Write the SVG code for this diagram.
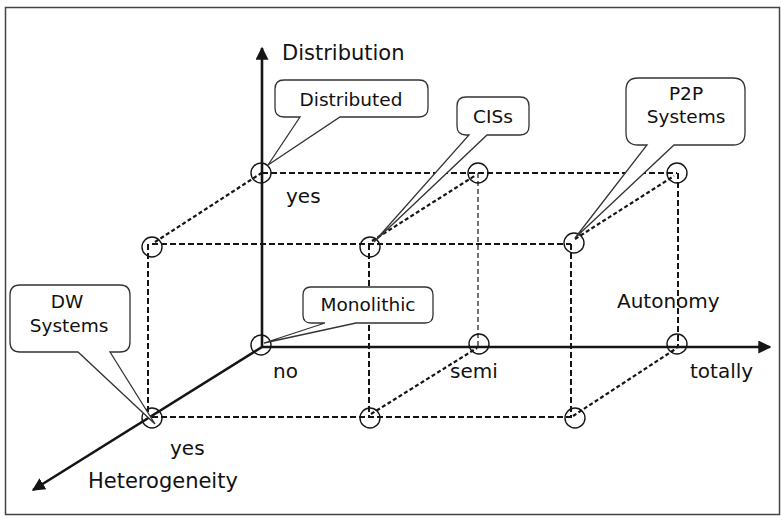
<svg xmlns="http://www.w3.org/2000/svg" width="783" height="521" viewBox="0 0 783 521">
<style>
text{font-family:"DejaVu Sans","Liberation Sans",sans-serif;fill:#111}
.ax{font-size:21px}
.lb{font-size:20px}
.co{font-size:18.5px;text-anchor:middle}
.axis{stroke:#151515;stroke-width:2.6;fill:none}
.dash{stroke:#151515;stroke-width:2;stroke-dasharray:6 3;fill:none}
.dot{stroke:#151515;stroke-width:2.2;stroke-dasharray:4 2.5;fill:none}
.thin{stroke:#151515;stroke-width:1.2;stroke-dasharray:5 3;fill:none}
.pt{stroke:#151515;stroke-width:1.4;fill:none}
.call{stroke:#333;stroke-width:1.3;fill:#fff}
</style>
<defs>
<marker id="ah" viewBox="0 0 10 10" refX="9" refY="5" markerWidth="5" markerHeight="5" orient="auto" markerUnits="strokeWidth">
<path d="M0,0 L10,5 L0,10 Z" fill="#151515"/>
</marker>
</defs>
<rect x="5.5" y="7.5" width="774" height="507" fill="#fff" stroke="#444" stroke-width="1.5"/>

<g id="axis-labels">
<text class="ax" x="282" y="60">Distribution</text>
<text class="ax" x="88" y="488">Heterogeneity</text>
<text class="lb" x="617" y="308">Autonomy</text>
<text class="lb" x="286" y="203">yes</text>
<text class="lb" x="273" y="378">no</text>
<text class="lb" x="450" y="378">semi</text>
<text class="lb" x="690" y="378">totally</text>
<text class="lb" x="170" y="455">yes</text>
</g>

<g id="connectors">
<line class="dash" x1="262" y1="173" x2="677" y2="173"/>
<line class="dash" x1="152" y1="244" x2="571" y2="244"/>
<line class="dash" x1="152" y1="417" x2="575" y2="417"/>
<line class="dash" x1="148" y1="244" x2="148" y2="417"/>
<line class="dash" x1="369" y1="244" x2="369" y2="417"/>
<line class="dash" x1="571" y1="244" x2="571" y2="417"/>
<line class="thin" x1="478" y1="173" x2="478" y2="346"/>
<line class="dash" x1="678" y1="173" x2="678" y2="346"/>
<line class="dot" x1="155" y1="242" x2="263" y2="172"/>
<line class="dot" x1="372" y1="241" x2="476" y2="175"/>
<line class="dot" x1="575" y1="239" x2="674" y2="176"/>
<line class="dot" x1="371" y1="414" x2="477" y2="348"/>
<line class="dot" x1="573" y1="416" x2="677" y2="348"/>
<line class="axis" x1="262" y1="347" x2="262" y2="48" marker-end="url(#ah)"/>
<line class="axis" x1="262" y1="347" x2="770" y2="347" marker-end="url(#ah)"/>
<line class="axis" x1="262" y1="347" x2="33" y2="490" marker-end="url(#ah)"/>
</g>

<g id="points">
<circle class="pt" cx="261" cy="345" r="10"/>
<circle class="pt" cx="479" cy="344" r="10"/>
<circle class="pt" cx="677" cy="344" r="10"/>
<circle class="pt" cx="261" cy="173" r="10"/>
<circle class="pt" cx="478" cy="173" r="10"/>
<circle class="pt" cx="677" cy="173" r="10"/>
<circle class="pt" cx="152" cy="247" r="10"/>
<circle class="pt" cx="370" cy="247" r="10"/>
<circle class="pt" cx="574" cy="243" r="10"/>
<circle class="pt" cx="152" cy="418" r="10"/>
<circle class="pt" cx="370" cy="418" r="10"/>
<circle class="pt" cx="575" cy="418" r="10"/>
</g>

<g id="callout-distributed">
<path class="call" d="M284,80 H419 Q428,80 428,89 V108 Q428,117 419,117 H340 L268,165 L300,117 H284 Q275,117 275,108 V89 Q275,80 284,80 Z"/>
<text class="co" x="351" y="106">Distributed</text>
</g>
<g id="callout-ciss">
<path class="call" d="M466,97 H520 Q529,97 529,106 V126 Q529,135 520,135 H487 L374,242 L469,135 H466 Q457,135 457,126 V106 Q457,97 466,97 Z"/>
<text class="co" x="493" y="123">CISs</text>
</g>
<g id="callout-p2p">
<path class="call" d="M638,78 H733 Q745,78 745,90 V133 Q745,145 733,145 H674 L575,238 L647,145 H638 Q626,145 626,133 V90 Q626,78 638,78 Z"/>
<text class="co" x="686" y="100">P2P</text>
<text class="co" x="686" y="123">Systems</text>
</g>
<g id="callout-dw">
<path class="call" d="M20,285 H120 Q130,285 130,295 V342 Q130,352 120,352 H110 L155,424 L78,352 H20 Q10,352 10,342 V295 Q10,285 20,285 Z"/>
<text class="co" x="67" y="308">DW</text>
<text class="co" x="69" y="332">Systems</text>
</g>
<g id="callout-monolithic">
<path class="call" d="M311,287 H425 Q433,287 433,295 V315 Q433,323 425,323 H356 L264,343 L325,323 H311 Q303,323 303,315 V295 Q303,287 311,287 Z"/>
<text class="co" x="368" y="311">Monolithic</text>
</g>
</svg>
